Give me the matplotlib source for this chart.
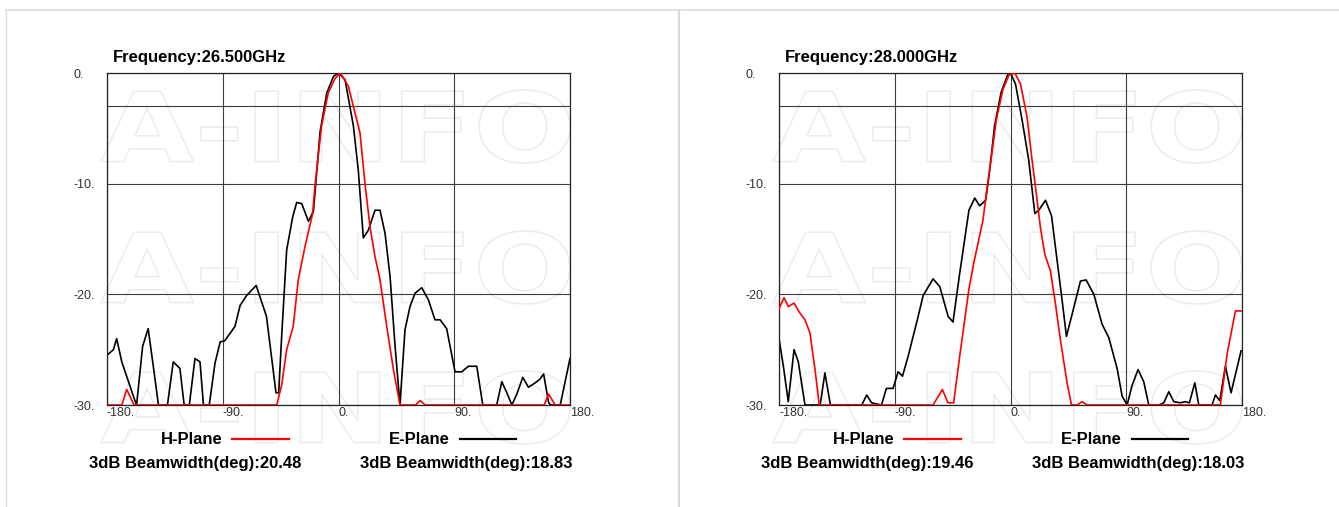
import numpy as np
import matplotlib
matplotlib.use('Agg')
import matplotlib.pyplot as plt
from matplotlib.lines import Line2D
from matplotlib.patches import PathPatch
from matplotlib.textpath import TextPath
from matplotlib.font_manager import FontProperties
from matplotlib.transforms import Affine2D

plt.rcParams['font.family'] = ['Liberation Sans', 'DejaVu Sans']

# 26.5 GHz
freqA = 'Frequency:26.500GHz'
hAngA = [-180, -168.5, -164.6, -159, -48, -44.2, -40.3, -35.2, -31.3, -26.1, -20.1, -18.4,
         -13.2, -8, -2.7, 1.5, 7.7, 12.8, 16.7, 20.6, 24.5, 28.4, 32.3, 37.5, 42.7, 47.8,
         60, 63.4, 67.5, 160, 163.3, 168.5, 180]
hValA = [-30, -30, -28.6, -30, -30, -28.2, -25.0, -22.9, -18.7, -15.7, -12.7, -10.3,
         -4.8, -1.8, -0.5, 0, -1.2, -3.6, -5.4, -10.0, -13.9, -16.6, -18.7, -22.9, -26.8, -30,
         -30, -29.6, -30, -30, -29.0, -30, -30]
eAngA = [-180, -175, -172.5, -168.5, -159.5, -157, -152.3, -148, -144, -140, -133, -128.5,
         -123.3, -120, -116, -111.6, -107.7, -105, -100.5, -96, -92, -88.5, -80.5, -76.5,
         -71.4, -64, -56, -48.6, -46.5, -44.2, -40.3, -35.6, -32.5, -28.6, -23.4, -19.5,
         -14.3, -9.1, -3.9, 0, 5.1, 11.6, 15.4, 19.3, 23.2, 28.4, 32.3, 36.2, 40.1, 44,
         47.8, 51.7, 55.6, 59.5, 64.7, 69.9, 75, 79, 84.1, 90.6, 95.8, 101, 107.5, 112.2,
         123, 127, 130.9, 134.8, 138.7, 143.3, 147.7, 152.9, 156.3, 159.5, 163.4, 165,
         172.4, 180]
eValA = [-25.5, -25.0, -24.0, -26.1, -29.2, -30, -24.7, -23.1, -26.5, -30, -30, -26.1,
         -26.7, -30, -30, -25.8, -26.1, -30, -30, -26.2, -24.3, -24.2, -22.9, -21.0,
         -20.1, -19.2, -22.0, -28.9, -28.9, -23.8, -16.0, -13.0, -11.7, -11.8, -13.4, -12.5,
         -5.3, -1.8, -0.3, 0, -0.6, -4.8, -8.8, -14.9, -14.2, -12.4, -12.4, -14.5, -18.4, -24.7,
         -30, -23.2, -21.1, -19.9, -19.4, -20.5, -22.3, -22.3, -23.1, -27.0, -27.0, -26.5, -26.5, -30,
         -30, -27.9, -28.9, -30, -29.0, -27.5, -28.4, -28.0, -27.7, -27.2, -29.8, -30,
         -30, -25.8]
bwA = ['20.48', '18.83']

# 28 GHz
freqB = 'Frequency:28.000GHz'
hAngB = [-180, -176.1, -172.8, -168.3, -163.7, -159.8, -155.9, -152, -148.7, -60.2, -53,
         -48.6, -44.2, -39.5, -35.6, -32.3, -28.6, -21.4, -18.8, -14.9, -11, -5.9, -1.3,
         3.4, 7.8, 12.9, 16.8, 20.7, 23.3, 26.7, 31.1, 35, 38.9, 44, 47.4, 51.8, 55.7,
         59.6, 163.2, 168.4, 174.9, 180]
hValB = [-21.3, -20.3, -21.1, -20.8, -21.7, -22.3, -23.5, -26.8, -30, -30, -28.6,
         -29.8, -29.8, -25.6, -22.3, -19.5, -17.2, -13.3, -10.9, -7.6, -4.2, -1.5, -0.2,
         0, -1.0, -4.0, -7.9, -11.5, -14.0, -16.4, -17.9, -20.9, -24.2, -28.0, -30, -30, -29.7,
         -30, -30, -25.4, -21.5, -21.5]
eAngB = [-180, -176.6, -172.8, -168.3, -165, -159.8, -148, -144.3, -140, -115.7, -111.8,
         -108, -100.3, -96.5, -91.3, -87.4, -84, -79.6, -75.7, -71.8, -67.9, -60.2, -55,
         -48.5, -44.7, -39.5, -32.3, -27.8, -24, -19.3, -16.2, -12.4, -7.2, -2, 0, 3.9,
         9.1, 14.2, 18.9, 22, 27.2, 31.9, 36.3, 40.2, 43.5, 47.9, 54.4, 58.8, 64.8, 71.2,
         76.4, 82.9, 86.8, 90.7, 94.6, 99.2, 103.6, 107.5, 115.3, 119.2, 123.1, 127, 132.1,
         136, 139.1, 143.3, 146.4, 156.7, 159.3, 162.7, 167.1, 171.5, 179.3]
eValB = [-24.0, -26.5, -29.7, -25.0, -26.1, -30, -30, -27.1, -30, -30, -29.1,
         -29.8, -30, -28.5, -28.5, -27.0, -27.4, -25.6, -23.8, -22.0, -20.1, -18.6, -19.3,
         -22.0, -22.5, -18.1, -12.4, -11.3, -12.0, -11.5, -8.8, -4.8, -1.7, -0.1, 0, -1.0,
         -4.3, -7.9, -12.7, -12.4, -11.5, -12.9, -17.0, -20.6, -23.8, -21.8, -18.8, -18.7, -20.0, -22.7,
         -23.9, -26.7, -29.2, -30, -28.2, -26.8, -27.9, -30, -30, -29.8, -28.8, -29.7, -29.8,
         -29.7, -29.8, -28.0, -30, -30, -29.1, -29.6, -26.5, -28.9, -25.1]
bwB = ['19.46', '18.03']

xTicks = [-180, -90, 0, 90, 180]
xLabels = ['-180.', '-90.', '0.', '90.', '180.']
yTicks = [-30, -20, -10, 0]
yLabels = ['-30.', '-20.', '-10.', '0.']

W, H = 1339, 507


def Watermark(fig, x0, x1, top, bottom):
    # hollow "A-INFO" stamp behind the plot
    tp = TextPath((0, 0), 'A-INFO', size=1, prop=FontProperties(family='DejaVu Sans', weight='bold'))
    ext = tp.get_extents()
    sx = (x1 - x0) / ext.width / W
    sy = (bottom - top) / ext.height / H
    tr = Affine2D().translate(-ext.x0, -ext.y0).scale(sx, sy).translate(x0 / W, 1 - bottom / H)
    path = tr.transform_path(tp)
    fig.add_artist(PathPatch(path, transform=fig.transFigure, facecolor='none',
                             edgecolor='#ececec', lw=1.1, zorder=-5))


def DrawPanel(ax, freq, hAng, hVal, eAng, eVal, bw):
    ax.set_facecolor('none')
    hLine, = ax.plot(hAng, hVal, color='#ff0000', lw=1.2, label='H-Plane', zorder=3)
    eLine, = ax.plot(eAng, eVal, color='black', lw=1.2, label='E-Plane', zorder=2)
    ax.set_xlim(-180, 180)
    ax.set_ylim(-30, 0)
    ax.set_xticks(xTicks)
    ax.set_xticklabels(xLabels, ha='left')
    ax.set_yticks(yTicks)
    ax.set_yticklabels(yLabels, ha='left')
    ax.set_yticks([-3], minor=True)
    ax.tick_params(axis='both', which='both', length=0, labelsize=9, labelcolor='#333333')
    ax.tick_params(axis='x', pad=1.5)
    ax.tick_params(axis='y', pad=24)
    ax.grid(True, which='both', color='#3c3c3c', lw=0.8)
    for s in ax.spines.values():
        s.set_color('#222222')
        s.set_linewidth(0.9)
    ax.annotate(freq, xy=(0, 1), xycoords='axes fraction', xytext=(4.5, 11),
                textcoords='offset points', va='center', ha='left',
                fontsize=12, fontweight='bold')
    leg = ax.legend(handles=[hLine, eLine], ncol=2, markerfirst=False, frameon=False,
                    loc='center', bbox_to_anchor=(0.5, -0.105), handlelength=3.4,
                    handletextpad=0.6, columnspacing=6.0,
                    prop={'weight': 'bold', 'size': 12})
    for l in leg.get_lines():
        l.set_linewidth(1.6)
    ax.text(0.191, -0.175, '3dB Beamwidth(deg):' + bw[0], transform=ax.transAxes,
            ha='center', va='center', fontsize=12, fontweight='bold')
    ax.text(0.776, -0.175, '3dB Beamwidth(deg):' + bw[1], transform=ax.transAxes,
            ha='center', va='center', fontsize=12, fontweight='bold')


fig = plt.figure(figsize=(W / 100, H / 100), dpi=100)
fig.patch.set_facecolor('white')

# panel frames
fig.add_artist(Line2D([6 / W, 1], [1 - 9.5 / H, 1 - 9.5 / H], color='#dcdcdc', lw=1.2))
fig.add_artist(Line2D([6.5 / W, 6.5 / W], [0, 1 - 9.5 / H], color='#dcdcdc', lw=1.0))
fig.add_artist(Line2D([679 / W, 679 / W], [0, 1 - 9.5 / H], color='#dcdcdc', lw=1.6))

for off in (0, 672):
    for top in (90, 231, 371):
        Watermark(fig, 101 + off, 570 + off, top, top + 73)

axA = fig.add_axes([107 / W, 1 - 405 / H, 463 / W, 332 / H])
axB = fig.add_axes([779 / W, 1 - 405 / H, 463 / W, 332 / H])
DrawPanel(axA, freqA, hAngA, hValA, eAngA, eValA, bwA)
DrawPanel(axB, freqB, hAngB, hValB, eAngB, eValB, bwB)

fig.savefig('out.png', dpi=100)
